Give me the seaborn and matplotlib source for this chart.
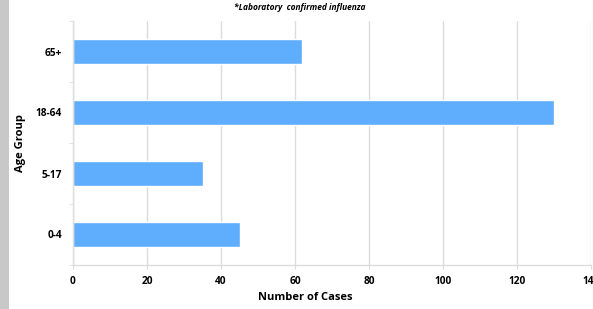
import matplotlib
matplotlib.use('Agg')
import matplotlib.pyplot as plt
import seaborn as sns
import pandas as pd
from matplotlib.patches import Rectangle

# Datos
grupos = ['65+', '18-64', '5-17', '0-4']
casos = [62, 130, 35, 45]
ticks_x = [0, 20, 40, 60, 80, 100, 120, 140]

tabela = pd.DataFrame({'Age Group': grupos, 'Number of Cases': casos})

sns.set_style('white')
plt.rcParams['font.family'] = ['Open Sans', 'DejaVu Sans']
plt.rcParams['text.color'] = 'black'
plt.rcParams['axes.labelcolor'] = 'black'
plt.rcParams['xtick.labelcolor'] = 'black'
plt.rcParams['ytick.labelcolor'] = 'black'

fig = plt.figure(figsize=(5.93, 3.09), dpi=100)
ax = fig.add_axes([73 / 593, 1 - 265 / 309, 518 / 593, 244 / 309])

sns.barplot(data=tabela, y='Age Group', x='Number of Cases', order=grupos,
            orient='h', color='#5eaefd', width=0.4, saturation=1, ax=ax)

ax.set_xlim(0, 140)
ax.set_xticks(ticks_x)
ax.set_xticklabels([str(t) for t in ticks_x], fontsize=7.3, fontweight='bold')
ax.set_yticks(range(len(grupos)))
ax.set_yticklabels(grupos, fontsize=7.3, fontweight='bold')
ax.set_ylim(len(grupos) - 0.5, -0.5)

# grade vertical
ax.grid(axis='x', color='#dcdcdc', linewidth=1)
ax.set_axisbelow(True)
for lado in ['top', 'right']:
    ax.spines[lado].set_visible(False)
for lado in ['left', 'bottom']:
    ax.spines[lado].set_color('#dcdcdc')
    ax.spines[lado].set_linewidth(1)

# marcas pequenas nas fronteiras das categorias
ax.set_yticks([i + 0.5 for i in range(-1, len(grupos))], minor=True)
ax.tick_params(axis='y', which='minor', length=3, color='#dcdcdc', left=True)
ax.tick_params(axis='y', which='major', length=0, pad=8)
ax.tick_params(axis='x', which='major', length=3, color='#dcdcdc', bottom=True, pad=5)

ax.set_xlabel('Number of Cases', fontsize=8, fontweight='bold')
ax.set_ylabel('Age Group', fontsize=8, fontweight='bold')
ax.xaxis.set_label_coords((305 - 73) / 518, (265 - 298) / 244)
ax.yaxis.set_label_coords((21 - 73) / 518, 0.5)
ax.xaxis.label.set_va('center')
ax.yaxis.label.set_va('center')

fig.text(0.505, 1 - 8 / 309, '*Laboratory  confirmed influenza', ha='center', va='center',
         fontsize=6, fontweight='bold', style='italic')

# faixa cinza a esquerda
fig.patches.append(Rectangle((0, 0), 8.5 / 593, 1, transform=fig.transFigure,
                             facecolor='#c8c8c8', edgecolor='none'))

fig.savefig('out.png', dpi=100)
